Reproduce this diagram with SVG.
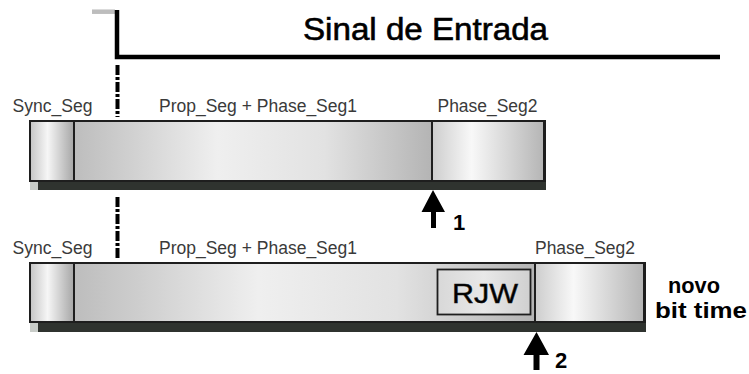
<svg xmlns="http://www.w3.org/2000/svg" width="749" height="374" viewBox="0 0 749 374">
<style>
.lbl{font-family:"Liberation Sans",Arial,sans-serif;font-size:17.5px;fill:#3a3a3a}
.big{font-family:"Liberation Sans",Arial,sans-serif;fill:#000}
.bold{font-family:"Liberation Sans",Arial,sans-serif;font-weight:bold;fill:#000}
.bar{stroke:#1e1e1e;stroke-width:2}
.div{stroke:#1e1e1e;stroke-width:2}
.shadow{fill:#2f332f}
.shadowL{fill:#c8ccc8}
.dash{stroke:#000;stroke-width:4;stroke-dasharray:10 2 3 2;fill:none}
.arrow{fill:#000}
</style>
<defs>
<linearGradient id="gSync" x1="0" y1="0" x2="1" y2="0">
<stop offset="0" stop-color="#c4c4c4"/>
<stop offset="0.4" stop-color="#f6f6f6"/>
<stop offset="1" stop-color="#a6a6a6"/>
</linearGradient>
<linearGradient id="gProp" x1="0" y1="0" x2="1" y2="0">
<stop offset="0" stop-color="#bdbdbd"/>
<stop offset="0.15" stop-color="#cfcfcf"/>
<stop offset="0.4" stop-color="#efefef"/>
<stop offset="0.7" stop-color="#e2e2e2"/>
<stop offset="1" stop-color="#b4b4b4"/>
</linearGradient>
<linearGradient id="gPh2" x1="0" y1="0" x2="1" y2="0">
<stop offset="0" stop-color="#cdcdcd"/>
<stop offset="0.35" stop-color="#f8f8f8"/>
<stop offset="1" stop-color="#b4b4b4"/>
</linearGradient>
<linearGradient id="gRJW" x1="0" y1="0" x2="1" y2="0">
<stop offset="0" stop-color="#d8d8d8"/>
<stop offset="0.5" stop-color="#e8e8e8"/>
<stop offset="1" stop-color="#d0d0d0"/>
</linearGradient>
</defs>
<rect width="749" height="374" fill="#fff"/>

<g id="signal">
<line x1="92" y1="11.7" x2="115" y2="11.7" stroke="#bdbdbd" stroke-width="4.5"/>
<polyline points="117,10 117,57 720,57" fill="none" stroke="#000" stroke-width="4.5"/>
<text class="big" x="303" y="40" font-size="31" stroke="#000" stroke-width="0.6" textLength="245" lengthAdjust="spacingAndGlyphs">Sinal de Entrada</text>
</g>

<g id="connectors">
<line class="dash" x1="117.5" y1="65" x2="117.5" y2="117"/>
<line class="dash" x1="117.5" y1="197" x2="117.5" y2="258"/>
<polygon class="arrow" points="433,190 445,212 436,212 436,228 431,228 431,212 421.5,212"/>
<polygon class="arrow" points="536.5,332 549,355 539.5,355 539.5,370 533.5,370 533.5,355 523.5,355"/>
</g>

<g id="bit1">
<rect class="shadowL" x="30" y="181" width="9" height="9"/>
<rect class="shadow" x="38" y="181" width="508" height="9"/>
<rect x="30" y="121" width="44" height="60" fill="url(#gSync)"/>
<rect x="74" y="121" width="358" height="60" fill="url(#gProp)"/>
<rect x="432" y="121" width="113" height="60" fill="url(#gPh2)"/>
<rect class="bar" x="30" y="121" width="515" height="60" fill="none"/>
<line x1="544.5" y1="121" x2="544.5" y2="181" stroke="#1e1e1e" stroke-width="3"/>
<line class="div" x1="74" y1="121" x2="74" y2="181"/>
<line class="div" x1="432" y1="121" x2="432" y2="181"/>
<text class="lbl" x="12.5" y="112" textLength="80" lengthAdjust="spacingAndGlyphs">Sync_Seg</text>
<text class="lbl" x="159" y="112" textLength="198" lengthAdjust="spacingAndGlyphs">Prop_Seg + Phase_Seg1</text>
<text class="lbl" x="437.5" y="112" textLength="100" lengthAdjust="spacingAndGlyphs">Phase_Seg2</text>
<text class="bold" x="453" y="229.5" font-size="22">1</text>
</g>

<g id="bit2">
<rect class="shadowL" x="30" y="322" width="9" height="10"/>
<rect class="shadow" x="38" y="322" width="608" height="10"/>
<rect x="30" y="263" width="44" height="59" fill="url(#gSync)"/>
<rect x="74" y="263" width="461" height="59" fill="url(#gProp)"/>
<rect x="535" y="263" width="110" height="59" fill="url(#gPh2)"/>
<rect class="bar" x="30" y="263" width="615" height="59" fill="none"/>
<line x1="644.5" y1="263" x2="644.5" y2="322" stroke="#1e1e1e" stroke-width="3"/>
<line class="div" x1="74" y1="263" x2="74" y2="322"/>
<line class="div" x1="535" y1="263" x2="535" y2="322"/>
<text class="lbl" x="12.5" y="254" textLength="80" lengthAdjust="spacingAndGlyphs">Sync_Seg</text>
<text class="lbl" x="159" y="254" textLength="198" lengthAdjust="spacingAndGlyphs">Prop_Seg + Phase_Seg1</text>
<text class="lbl" x="535" y="254" textLength="100" lengthAdjust="spacingAndGlyphs">Phase_Seg2</text>
<text class="bold" x="555" y="368" font-size="22">2</text>
</g>

<g id="rjw">
<rect x="437.5" y="269.5" width="93" height="45" fill="url(#gRJW)" stroke="#1e1e1e" stroke-width="1.8"/>
<text class="big" x="452" y="303" font-size="28" fill="#1a1a1a" stroke="#1a1a1a" stroke-width="0.5" textLength="66" lengthAdjust="spacingAndGlyphs">RJW</text>
</g>

<g id="novo">
<text class="bold" x="668" y="293" font-size="22" textLength="52" lengthAdjust="spacingAndGlyphs">novo</text>
<text class="bold" x="655" y="318" font-size="22" textLength="92" lengthAdjust="spacingAndGlyphs">bit time</text>
</g>
</svg>
